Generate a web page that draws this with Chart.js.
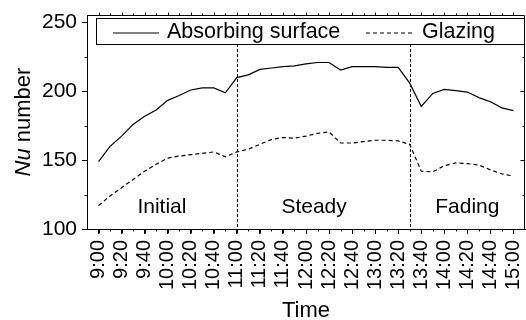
<!DOCTYPE html>
<html lang="en">
<head>
  <meta charset="UTF-8" />
  <title>Nu number vs time</title>
  <script src="https://cdn.jsdelivr.net/npm/chart.js"></script>
  <style>
    html, body { margin: 0; padding: 0; background: #fff; }
    #wrap { width: 526px; height: 320px; }
  </style>
</head>
<body>
  <div id="wrap"><canvas id="grafico"></canvas></div>

  <script>
    // time of each reading (every 10 min)
    const times = [
      '9:00', '9:10', '9:20', '9:30', '9:40', '9:50',
      '10:00', '10:10', '10:20', '10:30', '10:40', '10:50',
      '11:00', '11:10', '11:20', '11:30', '11:40', '11:50',
      '12:00', '12:10', '12:20', '12:30', '12:40', '12:50',
      '13:00', '13:10', '13:20', '13:30', '13:40', '13:50',
      '14:00', '14:10', '14:20', '14:30', '14:40', '14:50',
      '15:00'
    ];
    const absorbing = [
      149, 160, 167.5, 176, 182, 186.5,
      193.5, 197, 201, 202.5, 202.5, 199,
      210, 212, 216, 217, 218, 218.5,
      220, 221, 221, 215.5, 218, 218,
      218, 217.5, 217.5, 206, 189, 198.5,
      201.5, 200.5, 199.5, 195.5, 192.5, 188,
      186
    ];
    const glazing = [
      117, 124, 130, 136, 142, 147,
      151.5, 153, 154, 155, 156, 152.5,
      156, 158, 161.5, 165, 166.5, 166,
      167.5, 169.5, 170.5, 162.5, 162.5, 163.5,
      164.5, 164.5, 164, 161.5, 142, 141.5,
      146, 148, 147.5, 146.5, 143, 140,
      138.5
    ];
    const xTickLabels = [
      '9:00', '9:20', '9:40', '10:00', '10:20', '10:40', '11:00',
      '11:20', '11:40', '12:00', '12:20', '12:40', '13:00', '13:20',
      '13:40', '14:00', '14:20', '14:40', '15:00'
    ];
    const yTicks = [100, 150, 200, 250];
    const yMinorTicks = [125, 175, 225];
    const phaseBounds = ['11:00', '13:30'];
    const phaseNames = ['Initial', 'Steady', 'Fading'];
    const phaseLabelAt = ['9:55', '12:07', '14:20'];

    const FONT = '"Liberation Sans", Arial, sans-serif';
    const toMin = t => { const [h, m] = t.split(':').map(Number); return h * 60 + m; };

    // ticks menores, moldura, legenda, fases e titulo do eixo y
    const extras = {
      id: 'extras',
      beforeDatasetsDraw(chart) {
        const { ctx, chartArea: a, scales: { x } } = chart;
        ctx.save();
        // linhas das fases
        ctx.strokeStyle = '#000';
        ctx.lineWidth = 1;
        ctx.setLineDash([3, 2]);
        phaseBounds.forEach(t => {
          const px = Math.round(x.getPixelForValue(toMin(t))) + 0.5;
          ctx.beginPath();
          ctx.moveTo(px, 44);
          ctx.lineTo(px, a.bottom);
          ctx.stroke();
        });
        ctx.setLineDash([]);
        ctx.fillStyle = '#000';
        ctx.font = '21px ' + FONT;
        ctx.textAlign = 'center';
        ctx.textBaseline = 'middle';
        phaseNames.forEach((n, i) => {
          ctx.fillText(n, x.getPixelForValue(toMin(phaseLabelAt[i])), a.bottom - 22);
        });
        ctx.restore();
      },
      afterDraw(chart) {
        const { ctx, chartArea: a, scales: { x, y } } = chart;
        ctx.save();
        ctx.strokeStyle = '#000';
        ctx.lineWidth = 1;
        const top = Math.round(a.top) + 0.5, right = Math.round(a.right) - 0.5;
        const bottom = Math.round(a.bottom) + 0.5, left = Math.round(a.left) + 0.5;
        ctx.beginPath();
        ctx.moveTo(left, top); ctx.lineTo(right, top); ctx.lineTo(right, bottom);
        ctx.stroke();

        // ticks
        ctx.beginPath();
        times.forEach(t => {
          const px = Math.round(x.getPixelForValue(toMin(t))) + 0.5;
          const major = xTickLabels.includes(t);
          ctx.moveTo(px, bottom); ctx.lineTo(px, bottom + (major ? 4 : 2));
          ctx.moveTo(px, top); ctx.lineTo(px, top - (major ? 3 : 2));
        });
        yMinorTicks.forEach(v => {
          const py = Math.round(y.getPixelForValue(v)) + 0.5;
          ctx.moveTo(left, py); ctx.lineTo(left - 3, py);
          ctx.moveTo(right, py); ctx.lineTo(right - 2, py);
        });
        yTicks.forEach(v => {
          const py = Math.round(y.getPixelForValue(v)) + 0.5;
          ctx.moveTo(right, py); ctx.lineTo(right - 4, py);
        });
        ctx.stroke();

        // legenda
        ctx.fillStyle = '#fff';
        ctx.fillRect(96, 18, right - 96, 26);
        ctx.strokeRect(96.5, 18.5, right - 96.5, 26);
        const ds = chart.data.datasets;
        const items = [[113, 159, 167], [366, 415, 422]];
        ctx.font = '21.5px ' + FONT;
        ctx.textAlign = 'left';
        ctx.textBaseline = 'middle';
        ctx.fillStyle = '#000';
        ds.forEach((d, i) => {
          const [x0, x1, tx] = items[i];
          ctx.lineWidth = d.borderWidth;
          ctx.setLineDash(d.borderDash || []);
          ctx.beginPath();
          ctx.moveTo(x0, 33); ctx.lineTo(x1, 33);
          ctx.stroke();
          ctx.setLineDash([]);
          ctx.fillText(d.label, tx, 32);
        });

        // titulo eixo y: "Nu" em italico
        ctx.translate(24, (a.top + a.bottom) / 2);
        ctx.rotate(-Math.PI / 2);
        const fi = 'italic 22px ' + FONT, fn = '22px ' + FONT;
        ctx.font = fi; const w1 = ctx.measureText('Nu').width;
        ctx.font = fn; const w2 = ctx.measureText(' number').width;
        const sx = -(w1 + w2) / 2;
        ctx.font = fi; ctx.fillText('Nu', sx, 0);
        ctx.font = fn; ctx.fillText(' number', sx + w1, 0);
        ctx.restore();
      }
    };

    new Chart(document.getElementById('grafico'), {
      type: 'line',
      data: {
        datasets: [
          {
            label: 'Absorbing surface',
            data: times.map((t, i) => ({ x: toMin(t), y: absorbing[i] })),
            borderColor: '#000',
            borderWidth: 1.2,
            pointRadius: 0,
            fill: false,
            tension: 0
          },
          {
            label: 'Glazing',
            data: times.map((t, i) => ({ x: toMin(t), y: glazing[i] })),
            borderColor: '#000',
            borderWidth: 1.2,
            borderDash: [4, 3],
            pointRadius: 0,
            fill: false,
            tension: 0
          }
        ]
      },
      options: {
        responsive: true,
        maintainAspectRatio: false,
        animation: false,
        layout: { padding: { top: 15, right: 1, bottom: 0, left: 0 } },
        plugins: { legend: { display: false }, tooltip: { enabled: false } },
        scales: {
          x: {
            type: 'linear',
            min: toMin(times[0]) - 10,
            max: toMin(times[times.length - 1]) + 10,
            afterBuildTicks: s => { s.ticks = xTickLabels.map(t => ({ value: toMin(t) })); },
            afterFit: s => { s.height = 91; s.paddingLeft = 0; s.paddingRight = 0; },
            ticks: {
              autoSkip: false,
              minRotation: 90,
              maxRotation: 90,
              padding: 6,
              color: '#000',
              font: { family: FONT, size: 20 },
              callback: v => xTickLabels.find(t => toMin(t) === v) || ''
            },
            grid: { display: true, drawOnChartArea: false, drawTicks: true, tickLength: 5, color: '#000' },
            border: { display: true, color: '#000', width: 1 },
            title: { display: true, text: 'Time', color: '#000', font: { family: FONT, size: 22, lineHeight: 0.8 }, padding: 0 }
          },
          y: {
            min: 100,
            max: 255.5,
            afterBuildTicks: s => { s.ticks = yTicks.map(v => ({ value: v })); },
            afterFit: s => { s.width = 87; s.paddingTop = 0; s.paddingBottom = 0; },
            ticks: { padding: 5, color: '#000', font: { family: FONT, size: 21 } },
            grid: { display: true, drawOnChartArea: false, drawTicks: true, tickLength: 5, color: '#000' },
            border: { display: true, color: '#000', width: 1 }
          }
        }
      },
      plugins: [extras]
    });
  </script>
</body>
</html>
